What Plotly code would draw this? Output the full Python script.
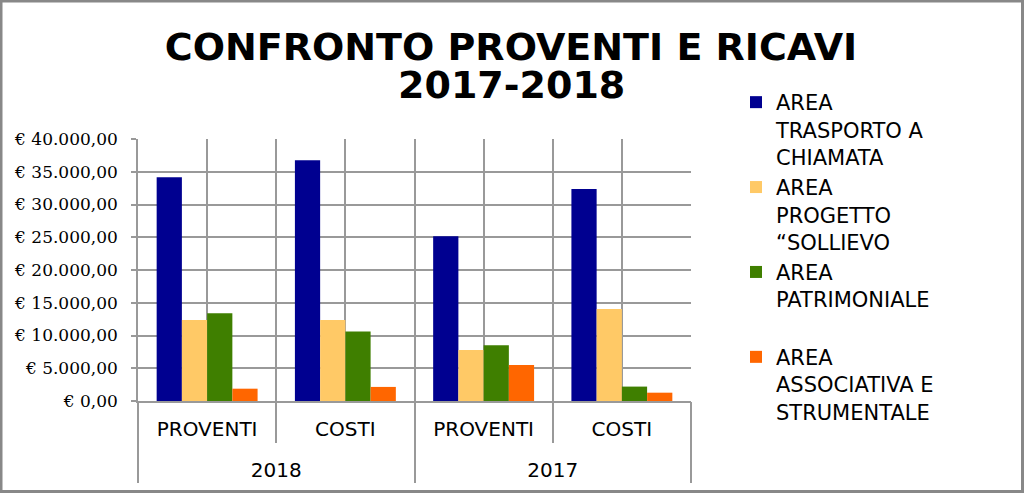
import plotly.graph_objects as go

# ---- data ----
years = ["2018", "2018", "2017", "2017"]
kinds = ["PROVENTI", "COSTI", "PROVENTI", "COSTI"]

series_names = [
    "AREA<br>TRASPORTO A<br>CHIAMATA",
    "AREA<br>PROGETTO<br>\u201cSOLLIEVO",
    "AREA<br>PATRIMONIALE<br>\u00a0",
    "AREA<br>ASSOCIATIVA E<br>STRUMENTALE",
]
trasporto = [34150, 36750, 25150, 32350]
sollievo = [12350, 12350, 7800, 14050]
patrimoniale = [13400, 10600, 8500, 2200]
associativa = [1880, 2150, 5500, 1270]
series_values = [trasporto, sollievo, patrimoniale, associativa]
series_colors = ["#000090", "#FFC966", "#3F7F00", "#FF6600"]

y_tickvals = [0, 5000, 10000, 15000, 20000, 25000, 30000, 35000, 40000]
y_ticktext = ["€ 0,00", "€ 5.000,00", "€ 10.000,00", "€ 15.000,00", "€ 20.000,00",
              "€ 25.000,00", "€ 30.000,00", "€ 35.000,00", "€ 40.000,00"]

title_line1 = "CONFRONTO PROVENTI E RICAVI"
title_line2 = "2017-2018"

# ---- derived category helpers ----
n = len(kinds)
cat_ids = [y + "|" + k for y, k in zip(years, kinds)]
idx = list(range(n))
year_order = list(dict.fromkeys(years))
year_idx = {yr: [i for i, v in enumerate(years) if v == yr] for yr in year_order}
year_centers = [sum(ix) / len(ix) for ix in year_idx.values()]
year_bounds = [min(year_idx[year_order[0]]) - 0.5] + [max(ix) + 0.5 for ix in year_idx.values()]
cat_bounds = [i - 0.5 for i in idx] + [n - 0.5]
XR = [-0.5, n - 0.5]

# ---- layout constants ----
W, H = 1024, 493
ML, MR, MT, MB = 138, 333, 139, 92
PW, PH = W - ML - MR, H - MT - MB
GRID = "#999999"
GW = 1.5
LABEL_FONT = dict(family="DejaVu Sans", size=20, color="#000000")

fig = go.Figure()
for name, vals, col in zip(series_names, series_values, series_colors):
    fig.add_trace(go.Bar(
        x=cat_ids, y=vals, name=name,
        marker=dict(color=col, line=dict(width=0)),
        hoverinfo="skip",
    ))

# invisible helper traces for the overlay axes
for ax_id, xs in (("x2", cat_bounds), ("x3", year_centers), ("x4", year_bounds)):
    fig.add_trace(go.Scatter(x=xs, y=[None] * len(xs), xaxis=ax_id, mode="markers",
                             showlegend=False, hoverinfo="skip"))

fig.update_layout(
    width=W, height=H,
    margin=dict(l=ML, r=MR, t=MT, b=MB, pad=0, autoexpand=False),
    paper_bgcolor="white", plot_bgcolor="white",
    barmode="group", bargap=0.27, bargroupgap=0,
    hovermode=False,
    font=dict(family="DejaVu Sans", color="#000000"),
    title=dict(
        text=title_line1, x=511 / W, xref="container", xanchor="center",
        y=1 - 47 / H, yref="container", yanchor="middle",
        font=dict(family="DejaVu Sans", size=38, color="#000000", weight="bold"),
    ),
    # category labels + gridlines at category centres
    xaxis=dict(
        type="category", categoryorder="array", categoryarray=cat_ids, range=XR,
        tickvals=cat_ids, ticktext=kinds,
        showgrid=True, gridcolor=GRID, gridwidth=GW,
        ticks="", ticklabelstandoff=9,
        showline=True, linecolor=GRID, linewidth=GW,
        tickfont=LABEL_FONT, zeroline=False,
    ),
    # gridlines + short ticks at category boundaries
    xaxis2=dict(
        overlaying="x", anchor="y", type="linear", range=XR,
        tickvals=cat_bounds, showticklabels=False,
        ticks="outside", ticklen=41, tickcolor=GRID, tickwidth=GW,
        showgrid=True, gridcolor=GRID, gridwidth=GW,
        showline=False, zeroline=False,
    ),
    # year labels
    xaxis3=dict(
        overlaying="x", anchor="y", type="linear", range=XR,
        tickvals=year_centers, ticktext=year_order, ticks="",
        ticklabelstandoff=55, tickfont=LABEL_FONT,
        showgrid=False, showline=False, zeroline=False,
    ),
    # long dividers between years
    xaxis4=dict(
        overlaying="x", anchor="y", type="linear", range=XR,
        tickvals=year_bounds, showticklabels=False,
        ticks="outside", ticklen=81, tickcolor=GRID, tickwidth=GW,
        showgrid=False, showline=False, zeroline=False,
    ),
    yaxis=dict(
        range=[0, 40000],
        tickvals=y_tickvals, ticktext=y_ticktext,
        showgrid=True, gridcolor=GRID, gridwidth=GW,
        zeroline=False,
        showline=True, linecolor=GRID, linewidth=GW,
        ticks="outside", ticklen=5, tickcolor=GRID, tickwidth=GW,
        ticklabelstandoff=10,
        tickfont=dict(family="DejaVu Serif", size=17, color="#000000"),
    ),
    legend=dict(
        x=(736 - ML) / PW, xanchor="left",
        y=(H - MB - 82) / PH, yanchor="top",
        font=dict(family="DejaVu Sans", size=21, color="#000000"),
        valign="top", bgcolor="rgba(0,0,0,0)", borderwidth=0,
        tracegroupgap=0, maxheight=480,
    ),
    annotations=[dict(
        text=title_line2, xref="paper", yref="paper",
        x=(511 - ML) / PW, y=(H - MB - 85) / PH,
        xanchor="center", yanchor="middle", showarrow=False,
        font=dict(family="DejaVu Sans", size=38, color="#000000", weight="bold"),
    )],
    shapes=[dict(
        type="rect", xref="paper", yref="paper",
        x0=-(ML - 1) / PW, x1=1 + (MR - 1.5) / PW,
        y0=-(MB - 1.5) / PH, y1=1 + (MT - 1) / PH,
        line=dict(color="#888888", width=3), fillcolor="rgba(0,0,0,0)",
        layer="above",
    )],
)

fig.write_html("out.html", config={"displayModeBar": False},
               post_script="document.body.style.margin='0';")
